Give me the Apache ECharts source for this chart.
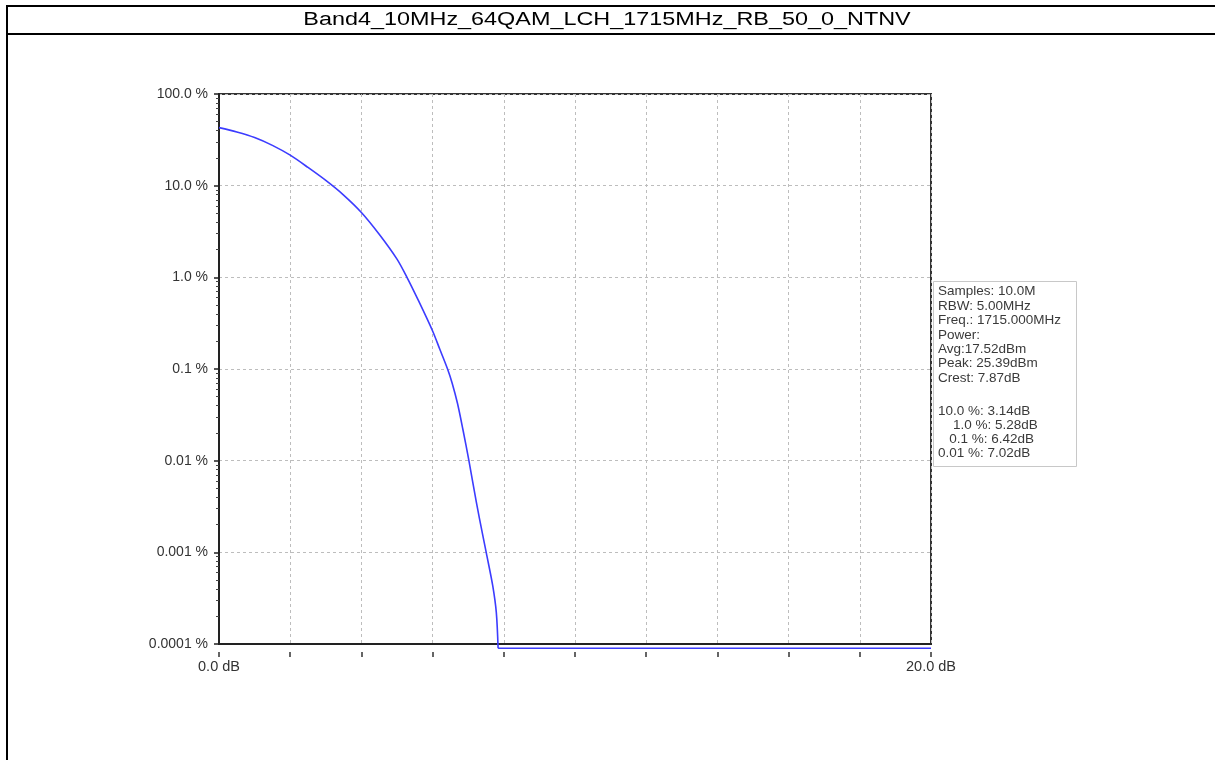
<!DOCTYPE html>
<html>
<head>
<meta charset="utf-8">
<script src="https://cdn.jsdelivr.net/npm/echarts@6/dist/echarts.min.js"></script>
<style>
html,body{margin:0;padding:0;background:#fff;}
#chart{width:1215px;height:760px;}
</style>
</head>
<body>
<div id="chart"></div>
<script>
// ---- data ----
var titleText = 'Band4_10MHz_64QAM_LCH_1715MHz_RB_50_0_NTNV';
var powerDb = [0, 0.5, 1.0, 1.5, 2.0, 2.5, 3.0, 3.5, 4.0, 4.5, 5.0, 5.28, 5.6, 6.0, 6.2, 6.42, 6.55, 6.7, 6.85, 7.02, 7.23, 7.4, 7.51, 7.69, 7.79, 7.84];
var probPct = [43, 38.5, 33.5, 27.5, 21.5, 15.8, 11.4, 7.9, 5.1, 2.95, 1.58, 1.0, 0.56, 0.26, 0.165, 0.1, 0.07, 0.042, 0.022, 0.01, 0.0035, 0.0016, 0.00098, 0.00043, 0.00022, 0.00009];
var floorDb = [7.84, 20];
var floorPct = [0.00009, 0.00009];
var yTickLabels = ['0.0001 %', '0.001 %', '0.01 %', '0.1 %', '1.0 %', '10.0 %', '100.0 %'];
var xLabelValues = [0, 20];
var xLabelTexts = ['0.0 dB', '20.0 dB'];
var infoLinesTop = [
  'Samples: 10.0M',
  'RBW: 5.00MHz',
  'Freq.: 1715.000MHz',
  'Power:',
  'Avg:17.52dBm',
  'Peak: 25.39dBm',
  'Crest: 7.87dB'
];
var infoLinesBottom = [
  '10.0 %: 3.14dB',
  '    1.0 %: 5.28dB',
  '   0.1 %: 6.42dB',
  '0.01 %: 7.02dB'
];

// ---- build ----
var curveData = powerDb.map(function (x, i) { return [x, probPct[i]]; });
var floorData = floorDb.map(function (x, i) { return [x, floorPct[i]]; });
var minorTicks = [];
for (var e = -4; e < 2; e++) {
  for (var m = 2; m <= 9; m++) minorTicks.push(m * Math.pow(10, e));
}
function yLabel(v) {
  var idx = Math.round(Math.log10(v)) + 4;
  return yTickLabels[idx] !== undefined ? yTickLabels[idx] : '';
}
function xLabel(v) {
  for (var i = 0; i < xLabelValues.length; i++) {
    if (Math.abs(v - xLabelValues[i]) < 1e-6) return xLabelTexts[i];
  }
  return '';
}

var FONT = 'Liberation Sans, Arial, sans-serif';
var LINE_COLOR = '#3c3cff';
var chart = echarts.init(document.getElementById('chart'), null, {renderer: 'canvas'});
var gridSplit = {show: true, lineStyle: {color: '#bdbdbd', type: [3, 3], width: 1}};

chart.setOption({
  animation: false,
  backgroundColor: '#fff',
  grid: {left: 219, top: 94, right: 284, bottom: 116, show: true, borderColor: '#333', borderWidth: 2, backgroundColor: 'transparent'},
  xAxis: [
    {
      type: 'value', min: 0, max: 20, interval: 2, position: 'bottom',
      axisLine: {show: true, onZero: false, lineStyle: {color: '#222', width: 2}},
      axisTick: {show: false},
      axisLabel: {show: false},
      splitLine: gridSplit
    },
    {
      type: 'value', min: 0, max: 20, interval: 2, position: 'bottom', offset: 8,
      axisLine: {show: false},
      axisTick: {show: true, length: 5, lineStyle: {color: '#333', width: 1.5}},
      axisLabel: {show: true, margin: 7, color: '#333', fontSize: 14.5, fontFamily: FONT, formatter: xLabel, showMinLabel: true, showMaxLabel: true},
      splitLine: {show: false}
    }
  ],
  yAxis: [
    {
      type: 'log', logBase: 10, min: 0.0001, max: 100, interval: 1, position: 'left',
      axisLine: {show: true, lineStyle: {color: '#222', width: 2}},
      axisTick: {show: true, length: 5, inside: false, lineStyle: {color: '#222', width: 1.5}},
      axisLabel: {show: true, margin: 11, color: '#333', fontSize: 14, fontFamily: FONT, formatter: yLabel, showMinLabel: true, showMaxLabel: true},
      splitLine: gridSplit,
      minorTick: {show: false}
    },
    {
      type: 'log', logBase: 10, min: 0.0001, max: 100, position: 'left',
      axisLine: {show: false},
      axisTick: {show: true, length: 3, customValues: minorTicks, lineStyle: {color: '#444', width: 1}},
      axisLabel: {show: false},
      splitLine: {show: false}
    }
  ],
  series: [
    {
      type: 'line', xAxisIndex: 0, yAxisIndex: 0,
      data: curveData,
      showSymbol: false,
      smooth: 0.3,
      clip: false,
      lineStyle: {color: LINE_COLOR, width: 1.6},
      z: 5
    },
    {
      type: 'line', xAxisIndex: 0, yAxisIndex: 0,
      data: floorData,
      showSymbol: false,
      smooth: false,
      clip: false,
      lineStyle: {color: LINE_COLOR, width: 1.6},
      z: 5
    }
  ],
  graphic: [
    {type: 'line', shape: {x1: 6, y1: 6, x2: 1215, y2: 6}, style: {stroke: '#000', lineWidth: 2}},
    {type: 'line', shape: {x1: 6, y1: 34, x2: 1215, y2: 34}, style: {stroke: '#000', lineWidth: 2}},
    {type: 'line', shape: {x1: 7, y1: 5, x2: 7, y2: 760}, style: {stroke: '#000', lineWidth: 2}},
    {type: 'text', x: 607, y: 20, scaleX: 1.3, style: {text: titleText, fill: '#000', font: '18px ' + FONT, textAlign: 'center', textVerticalAlign: 'middle'}},
    {type: 'rect', shape: {x: 933.5, y: 281.5, width: 143, height: 185}, style: {fill: '#fff', stroke: '#c8c8c8', lineWidth: 1}, z: 10},
    {type: 'text', x: 938, y: 284.5, z: 11, style: {text: infoLinesTop.join('\n'), fill: '#3a3a3a', font: '13.5px ' + FONT, lineHeight: 14.4, textAlign: 'left', textVerticalAlign: 'top'}},
    {type: 'text', x: 938, y: 404.5, z: 11, style: {text: infoLinesBottom.join('\n'), fill: '#3a3a3a', font: '13.5px ' + FONT, lineHeight: 14, textAlign: 'left', textVerticalAlign: 'top'}}
  ]
});
</script>
</body>
</html>
